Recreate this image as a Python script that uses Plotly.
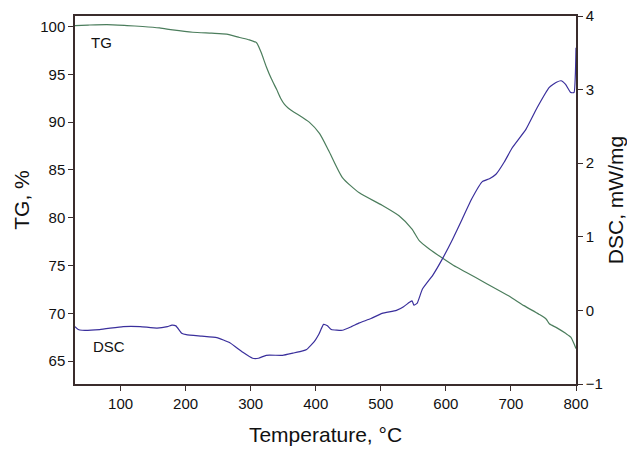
import plotly.graph_objects as go

# TG curve (temperature °C, mass %)
tg_temp = [30, 50, 79, 110, 134, 160, 180, 211, 240, 263, 283, 298, 309, 316, 324, 332, 340, 346, 352, 358, 365,
           375, 390, 406, 420, 441, 467, 502, 528, 548, 559, 575, 594, 612, 631, 660, 697, 720, 743, 754, 759,
           770, 784, 792, 797, 800]
tg_val = [100.1, 100.15, 100.2, 100.1, 100.0, 99.85, 99.65, 99.4, 99.3, 99.2, 98.85, 98.6, 98.3, 97.3, 95.8, 94.5,
          93.4, 92.5, 91.85, 91.45, 91.1, 90.7, 90.0, 88.8, 87.0, 84.2, 82.6, 81.3, 80.2, 78.8, 77.6, 76.7, 75.8,
          75.0, 74.3, 73.2, 71.8, 70.8, 69.9, 69.4, 68.9, 68.5, 67.9, 67.5, 66.8, 66.3]

# DSC curve (temperature °C, mW/mg)
dsc_temp = [30, 35, 41, 68, 104, 130, 156, 172, 179, 185, 194, 201, 225, 248, 268, 288, 303, 312, 324, 349, 365,
            380, 386, 398, 405, 412, 418, 424, 441, 455, 467, 485, 502, 524, 535, 544, 548, 551, 556, 564, 580,
            594, 610, 625, 640, 656, 667, 677, 690, 702, 723, 740, 759, 770, 777, 784, 792, 797, 799, 800]
dsc_val = [-0.22, -0.26, -0.27, -0.26, -0.22, -0.22, -0.24, -0.22, -0.20, -0.21, -0.31, -0.33, -0.35, -0.37,
           -0.44, -0.57, -0.65, -0.65, -0.61, -0.61, -0.58, -0.55, -0.53, -0.42, -0.32, -0.19, -0.21, -0.26,
           -0.27, -0.22, -0.17, -0.11, -0.04, 0.0, 0.05, 0.11, 0.13, 0.07, 0.1, 0.29, 0.48, 0.69, 0.96, 1.24,
           1.52, 1.75, 1.79, 1.85, 2.02, 2.21, 2.46, 2.75, 3.03, 3.10, 3.12, 3.07, 2.96, 2.96, 3.2, 3.57]

GREEN = "#4b7d5c"
BLUE = "#3a2f9c"
AX = "#3a2c2c"
FONT = "Liberation Sans, Arial, sans-serif"

fig = go.Figure()
fig.add_trace(go.Scatter(x=tg_temp, y=tg_val, mode="lines",
                         line=dict(color=GREEN, width=1.2, shape="spline", smoothing=0.6),
                         showlegend=False, yaxis="y"))
fig.add_trace(go.Scatter(x=dsc_temp, y=dsc_val, mode="lines",
                         line=dict(color=BLUE, width=1.2, shape="spline", smoothing=0.4),
                         showlegend=False, yaxis="y2"))

fig.add_annotation(x=70, y=98.3, text="TG", showarrow=False, xref="x", yref="y",
                   font=dict(family=FONT, size=15, color="#111"))
fig.add_annotation(x=82, y=-0.49, text="DSC", showarrow=False, xref="x", yref="y2",
                   font=dict(family=FONT, size=15, color="#111"))

fig.update_layout(
    width=627, height=449,
    margin=dict(l=75, r=51, t=16, b=65),
    plot_bgcolor="white", paper_bgcolor="white",
    font=dict(family=FONT, size=15, color="#111"),
    xaxis=dict(range=[30, 800], tickvals=[100, 200, 300, 400, 500, 600, 700, 800],
               showline=True, linecolor=AX, linewidth=1.5, mirror=True, automargin=False,
               ticks="outside", ticklen=5, tickcolor=AX, showgrid=False, zeroline=False,
               title=dict(text="Temperature, °C", font=dict(size=21), standoff=17)),
    yaxis=dict(range=[62.6, 101.1], tickvals=[65, 70, 75, 80, 85, 90, 95, 100],
               showline=True, linecolor=AX, linewidth=1.5, automargin=False,
               ticks="outside", ticklen=5, tickcolor=AX, showgrid=False, zeroline=False,
               title=dict(text="TG, %", font=dict(size=21), standoff=5)),
    yaxis2=dict(range=[-1, 4], tickvals=[-1, 0, 1, 2, 3, 4], ticktext=["−1", "0", "1", "2", "3", "4"],
                overlaying="y", side="right", automargin=False,
                showline=True, linecolor=AX, linewidth=1.5,
                ticks="outside", ticklen=5, tickcolor=AX, showgrid=False, zeroline=False,
                title=dict(text="DSC, mW/mg", font=dict(size=21), standoff=8)),
)

fig.write_html("out.html")
